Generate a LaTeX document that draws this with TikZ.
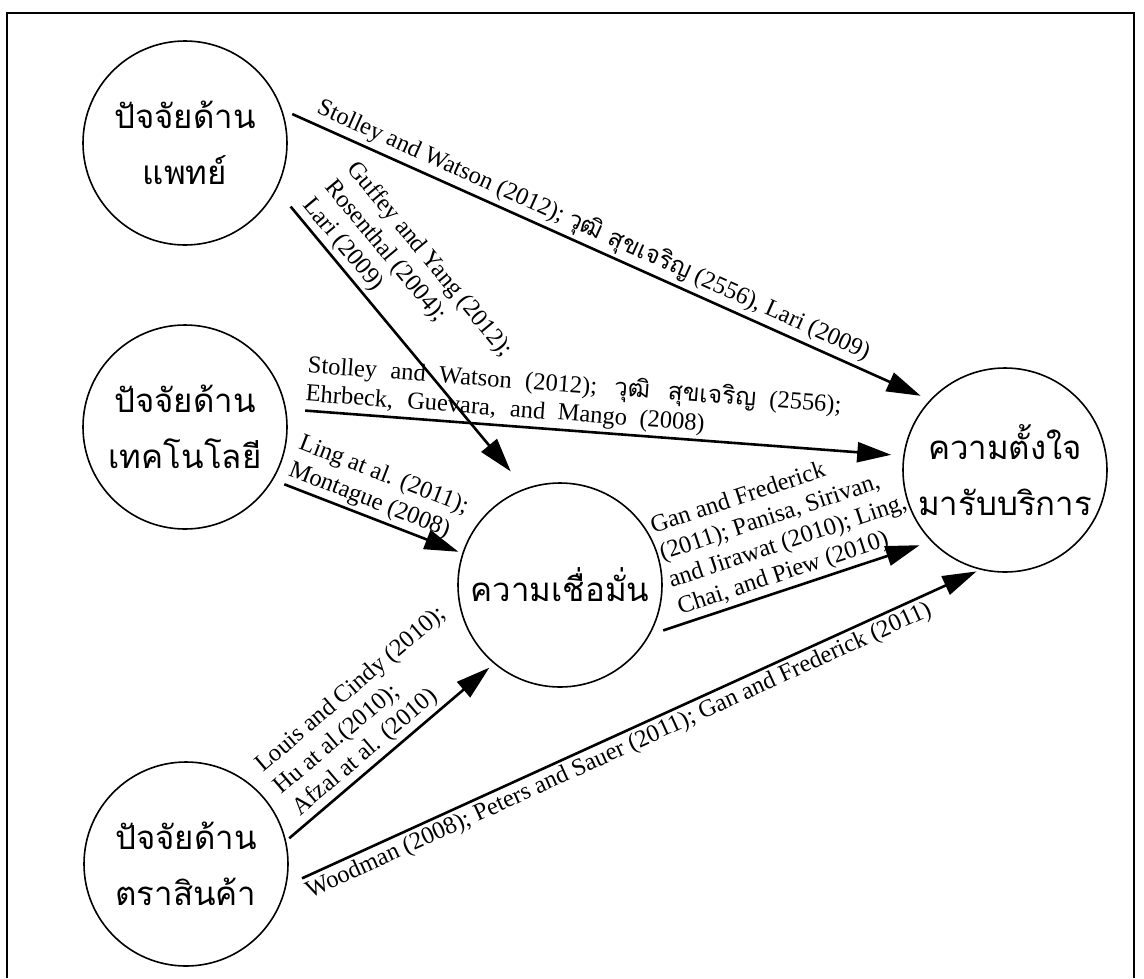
\documentclass[tikz,border=0pt]{standalone}
\usepackage{fontspec}
\setmainfont{Liberation Serif}
\newfontfamily\thai[Script=Thai]{Loma}
\usetikzlibrary{arrows.meta}
\begin{document}
\begin{tikzpicture}[x=1pt,y=-1pt,
  factor/.style={draw, circle, line width=1.6pt, minimum size=204pt, inner sep=0pt,
    font=\thai\fontsize{33}{56}\selectfont, align=center},
  link/.style={line width=2.6pt, -{Triangle[length=34pt,width=20pt]}},
  cite/.style={font=\fontsize{24.5}{28.5}\selectfont, sloped, inner sep=3pt, align=left},
]
\useasboundingbox (0,0) rectangle (1144,978);
\draw[line width=2.4pt] (7,978) -- (7,13) -- (1134,13) -- (1134,978);

\node[factor] (doc)   at (185,143) {ปัจจัยด้าน\\แพทย์};
\node[factor] (tech)  at (185,427) {ปัจจัยด้าน\\เทคโนโลยี};
\node[factor] (brand) at (186,864) {ปัจจัยด้าน\\ตราสินค้า};
\node[factor] (trust) at (560,585) {ความเชื่อมั่น};
\node[factor] (intent) at (1005,470) {ความตั้งใจ\\มารับบริการ};

\draw[link, shorten <=11pt, shorten >=10pt] (doc.19) -- (intent.137)
  node[cite, above, pos=0.47] {Stolley and Watson (2012); {\thai วุฒิ สุขเจริญ} (2556), Lari (2009)};
\draw[link, shorten <=22pt, shorten >=22pt] (doc.-27.4) -- (trust.110.3)
  node[cite, above, pos=0.39] {Guffey and Yang (2012);\\Rosenthal (2004);\\Lari (2009)};
\draw[link, shorten <=19pt, shorten >=12pt] (tech.10.5) -- (intent.172.9)
  node[cite, above, pos=0.462] {\makebox[535pt][s]{Stolley and Watson (2012); {\thai วุฒิ สุขเจริญ} (2556);}\\
    \makebox[400pt][s]{Ehrbeck, Guevara, and Mango (2008)}};
\draw[link, shorten <=12pt, shorten >=4pt] (tech.-31) -- (trust.162.4)
  node[cite, above, pos=0.5] {Ling at al. (2011);\\Montague (2008)};
\draw[link, shorten <=4pt, shorten >=6pt] (brand.13.1) -- (trust.230.3)
  node[cite, above, pos=0.54] {Louis and Cindy (2010);\\Hu at al.(2010);\\Afzal at al. (2010)};
\draw[link, shorten <=14pt, shorten >=12pt] (trust.-29.4) -- (intent.224.3)
  node[cite, above, pos=0.54] {Gan and Frederick\\(2011); Panisa, Sirivan,\\and Jirawat (2010); Ling,\\Chai, and Piew (2010)};
\draw[link, shorten <=17pt, shorten >=4pt] (brand.-12.6) -- (intent.-104.7)
  node[cite, below, pos=0.47] {Woodman (2008); Peters and Sauer (2011); Gan and Frederick (2011)};
\end{tikzpicture}
\end{document}
